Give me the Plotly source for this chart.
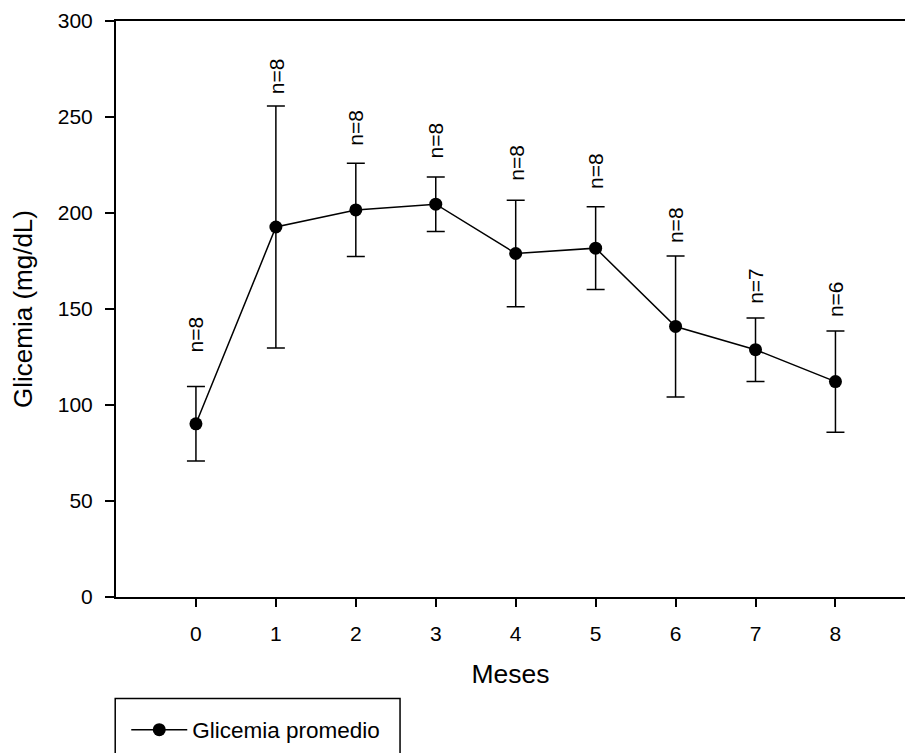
import plotly.graph_objects as go

meses = [0, 1, 2, 3, 4, 5, 6, 7, 8]
glicemia = [90.2, 192.7, 201.6, 204.6, 178.9, 181.7, 140.9, 128.8, 112.2]
desvio = [19.4, 63.0, 24.3, 14.2, 27.7, 21.6, 36.7, 16.5, 26.4]
n_labels = ["n=8", "n=8", "n=8", "n=8", "n=8", "n=8", "n=8", "n=7", "n=6"]
n_label_y = [126.8, 261.3, 234.4, 227.8, 216.1, 211.8, 183.6, 151.9, 145.5]
x_ticks = [0, 1, 2, 3, 4, 5, 6, 7, 8]
y_ticks = [0, 50, 100, 150, 200, 250, 300]

FONT = "Liberation Sans, Arial, sans-serif"

fig = go.Figure()
fig.add_trace(go.Scatter(
    x=meses, y=glicemia, mode="lines+markers", name="Glicemia promedio",
    line=dict(color="black", width=1.5),
    marker=dict(color="black", size=13, symbol="circle"),
    error_y=dict(type="data", array=desvio, visible=True, color="black",
                 thickness=1.5, width=9),
))

for xv, yv, txt in zip(meses, n_label_y, n_labels):
    fig.add_annotation(x=xv, y=yv, xref="x", yref="y", text=txt,
                       showarrow=False, textangle=-90, yanchor="bottom",
                       xanchor="center", font=dict(family=FONT, size=21, color="black"),
                       borderpad=0)

# legend frame
fig.add_shape(type="rect", xref="paper", yref="paper",
              x0=-0.001, x1=0.36, y0=-0.176, y1=-0.30,
              line=dict(color="black", width=1.5), fillcolor="rgba(0,0,0,0)")

fig.update_layout(
    width=905, height=753,
    margin=dict(l=116, r=0, t=21, b=156),
    plot_bgcolor="white", paper_bgcolor="white",
    font=dict(family=FONT, size=21, color="black"),
    showlegend=True,
    legend=dict(x=0.013, y=-0.231, xanchor="left", yanchor="middle",
                font=dict(family=FONT, size=22.5, color="black"),
                bgcolor="rgba(0,0,0,0)", borderwidth=0, itemwidth=56),
)
fig.update_xaxes(
    range=[-1, 8.87], tickvals=x_ticks, ticktext=[str(v) for v in x_ticks],
    showline=True, linecolor="black", linewidth=2, mirror=True,
    ticks="outside", ticklen=8, tickwidth=1.5, tickcolor="black",
    showgrid=False, zeroline=False, ticklabelstandoff=9,
    tickfont=dict(family=FONT, size=21),
    title=dict(text="Meses", font=dict(family=FONT, size=26.5), standoff=20),
)
fig.update_yaxes(
    range=[0, 300], tickvals=y_ticks,
    showline=True, linecolor="black", linewidth=2, mirror=False,
    ticks="outside", ticklen=9, tickwidth=1.5, tickcolor="black",
    showgrid=False, zeroline=False, ticklabelstandoff=8,
    tickfont=dict(family=FONT, size=21),
    title=dict(text="Glicemia (mg/dL)", font=dict(family=FONT, size=26), standoff=18),
)

fig.write_html("out.html")
